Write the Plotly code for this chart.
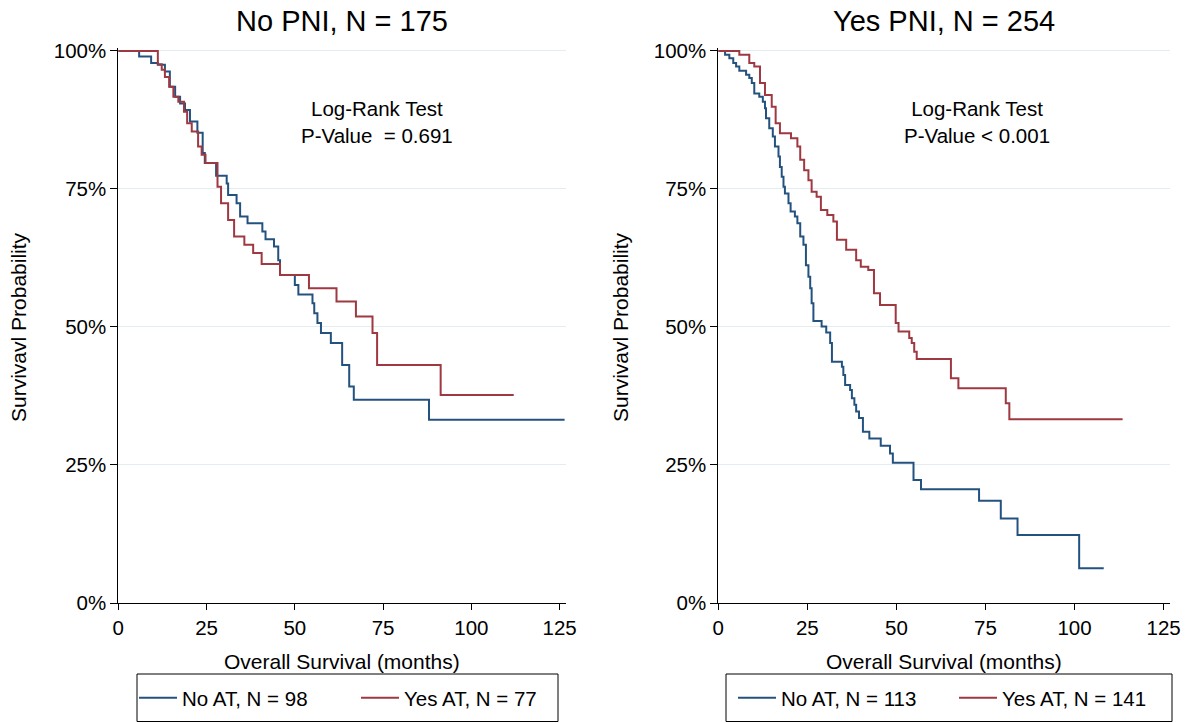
import plotly.graph_objects as go

W, H = 1188, 723

# ---------------- data ----------------
# Left panel: No PNI, N = 175
left_title = "No PNI, N = 175"
left_noat_name = "No AT, N = 98"
left_noat_t = [0, 5.9, 9.3, 11.2, 13.2, 14.6, 16.1, 17.5, 18.9, 20.3, 22.4, 23.9, 24.5, 27.7,
               30.7, 31.1, 33.5, 34.5, 36.6, 40.8, 41.7, 44.1, 45.3, 45.8, 50.0, 51.0, 55.0,
               55.5, 56.4, 57.4, 60.2, 63.4, 65.4, 66.7, 88.0, 126.4]
left_noat_s = [100, 99.0, 97.8, 97.5, 96.3, 93.5, 91.7, 90.5, 89.3, 87.2, 85.2, 81.5, 79.7, 77.4,
               76.0, 73.9, 72.4, 70.0, 68.8, 67.3, 65.9, 64.6, 62.1, 59.4, 57.6, 55.9, 54.3,
               52.5, 50.7, 48.9, 47.1, 43.1, 39.2, 36.8, 33.2, 33.2]
left_yesat_name = "Yes AT, N = 77"
left_yesat_t = [0, 11.2, 12.3, 13.2, 14.4, 15.6, 17.0, 18.6, 19.5, 20.8, 22.6, 23.6, 24.7, 28.1,
                29.1, 31.1, 32.8, 35.7, 38.2, 40.6, 45.8, 54.0, 61.8, 67.3, 72.0, 73.3, 91.3, 112.0]
left_yesat_s = [100, 97.6, 96.6, 95.3, 93.5, 91.7, 90.8, 89.0, 86.9, 85.4, 82.7, 81.2, 79.7, 75.4,
                72.4, 69.4, 66.4, 64.9, 63.4, 61.4, 59.4, 57.0, 54.6, 51.9, 48.9, 43.1, 37.7, 37.7]
left_pvalue = "P-Value \u00a0= 0.691"

# Right panel: Yes PNI, N = 254
right_title = "Yes PNI, N = 254"
right_noat_name = "No AT, N = 113"
right_noat_t = [0, 1.9, 3.1, 4.2, 5.0, 5.9, 7.8, 8.7, 9.4, 10.1, 11.5, 12.5, 13.1, 13.4, 14.3,
                15.3, 15.9, 16.9, 17.3, 17.8, 18.3, 18.7, 19.7, 20.3, 21.5, 22.2, 23.0, 23.9,
                24.6, 25.3, 25.8, 26.2, 26.7, 29.0, 30.3, 31.4, 31.9, 34.7, 35.1, 35.6, 37.0,
                37.5, 38.2, 38.7, 39.5, 40.6, 42.4, 45.6, 48.2, 49.0, 54.8, 56.9, 73.2, 79.3,
                84.0, 101.3, 108.2]
right_noat_s = [100, 99.3, 98.7, 97.8, 97.2, 96.4, 95.7, 95.1, 94.2, 92.3, 91.7, 90.8, 89.6, 87.8,
                86.0, 84.5, 82.7, 80.9, 79.0, 77.2, 75.4, 74.2, 72.4, 70.9, 70.0, 68.8, 66.4,
                64.9, 61.2, 59.1, 57.0, 54.3, 51.1, 50.1, 49.0, 47.1, 43.7, 42.8, 41.3, 39.5,
                38.6, 37.1, 35.9, 34.7, 33.5, 31.0, 29.8, 28.5, 27.1, 25.4, 22.3, 20.6, 18.5,
                15.3, 12.3, 6.3, 6.3]
right_yesat_name = "Yes AT, N = 141"
right_yesat_t = [0, 5.9, 8.7, 10.1, 11.7, 13.1, 15.0, 16.1, 17.3, 20.4, 22.2, 23.0, 24.1, 25.3,
                 26.2, 27.6, 28.8, 30.6, 32.3, 33.3, 35.9, 38.7, 40.0, 42.1, 43.7, 45.4, 49.8,
                 50.6, 53.6, 54.3, 55.0, 55.7, 65.3, 67.4, 80.7, 81.7, 113.5]
right_yesat_s = [100, 99.3, 97.8, 97.2, 94.2, 92.0, 89.9, 86.9, 85.1, 84.2, 82.7, 80.3, 78.4, 76.6,
                 74.5, 73.6, 71.2, 70.3, 69.1, 65.8, 64.0, 62.1, 60.9, 60.3, 56.1, 54.0, 50.7,
                 49.2, 48.0, 47.1, 45.5, 44.2, 40.7, 38.9, 36.2, 33.3, 33.3]
right_pvalue = "P-Value < 0.001"

x_ticks = [0, 25, 50, 75, 100, 125]
y_ticks = [0, 25, 50, 75, 100]
y_ticktext = ["0%", "25%", "50%", "75%", "100%"]
x_title = "Overall Survival (months)"
y_title = "Survivavl Probability"
test_label = "Log-Rank Test"

# ---------------- styling ----------------
BLUE = "#24527f"
RED = "#9e3841"
GRID = "#e3ecef"
FONT = "Liberation Sans, Arial, Helvetica, sans-serif"


def fx(p):
    """page pixel (from left) -> paper fraction"""
    return p / W


def fy(p):
    """page pixel (from top) -> paper fraction"""
    return 1 - p / H


fig = go.Figure()

fig.add_trace(go.Scatter(x=left_noat_t, y=left_noat_s, mode="lines", name=left_noat_name,
                         line=dict(shape="hv", color=BLUE, width=2),
                         xaxis="x", yaxis="y", legend="legend"))
fig.add_trace(go.Scatter(x=left_yesat_t, y=left_yesat_s, mode="lines", name=left_yesat_name,
                         line=dict(shape="hv", color=RED, width=2),
                         xaxis="x", yaxis="y", legend="legend"))
fig.add_trace(go.Scatter(x=right_noat_t, y=right_noat_s, mode="lines", name=right_noat_name,
                         line=dict(shape="hv", color=BLUE, width=2),
                         xaxis="x2", yaxis="y2", legend="legend2"))
fig.add_trace(go.Scatter(x=right_yesat_t, y=right_yesat_s, mode="lines", name=right_yesat_name,
                         line=dict(shape="hv", color=RED, width=2),
                         xaxis="x2", yaxis="y2", legend="legend2"))

TICKFONT = dict(size=20.5, color="black")
xax = dict(range=[0, 126.8], tickvals=x_ticks, showline=True, linecolor="black", linewidth=1,
           ticks="outside", ticklen=6, tickcolor="black", showgrid=False, zeroline=False,
           tickfont=TICKFONT, fixedrange=True, automargin=False)
yax = dict(range=[0, 100.5], tickvals=y_ticks, ticktext=y_ticktext, showline=True,
           linecolor="black", linewidth=1, ticks="outside", ticklen=7, tickcolor="black",
           showgrid=True, gridcolor=GRID, gridwidth=1, zeroline=False,
           tickfont=TICKFONT, fixedrange=True, automargin=False)

ydom = [fy(603), fy(48.2)]

LEGFONT = dict(size=20.5, color="black")
fig.update_layout(
    width=W, height=H,
    margin=dict(l=0, r=0, t=0, b=0, pad=0, autoexpand=False),
    paper_bgcolor="white", plot_bgcolor="white",
    font=dict(family=FONT, size=20.5, color="black"),
    xaxis=dict(xax, domain=[fx(118.3), fx(566)], anchor="y"),
    yaxis=dict(yax, domain=ydom, anchor="x"),
    xaxis2=dict(xax, domain=[fx(718.3), fx(1170)], anchor="y2"),
    yaxis2=dict(yax, domain=ydom, anchor="x2"),
    legend=dict(orientation="h", x=fx(134), xanchor="left", y=fy(698), yanchor="middle",
                borderwidth=0, bgcolor="rgba(0,0,0,0)", font=LEGFONT,
                itemwidth=38, entrywidth=169),
    legend2=dict(orientation="h", x=fx(733), xanchor="left", y=fy(698), yanchor="middle",
                 borderwidth=0, bgcolor="rgba(0,0,0,0)", font=LEGFONT,
                 itemwidth=38, entrywidth=168),
    showlegend=True,
)

# legend frames
for x0, x1 in ((137, 558), (726, 1172)):
    fig.add_shape(type="rect", xref="paper", yref="paper", x0=fx(x0), x1=fx(x1),
                  y0=fy(721.5), y1=fy(674), line=dict(color="black", width=1),
                  fillcolor="rgba(0,0,0,0)", layer="above")

ann = []
# panel titles
ann.append(dict(text=left_title, x=fx(342), y=fy(21), xref="paper", yref="paper",
                xanchor="center", yanchor="middle", showarrow=False, font=dict(size=29)))
ann.append(dict(text=right_title, x=fx(944), y=fy(21), xref="paper", yref="paper",
                xanchor="center", yanchor="middle", showarrow=False, font=dict(size=29)))
# axis titles
for cx in (342, 944):
    ann.append(dict(text=x_title, x=fx(cx), y=fy(661), xref="paper", yref="paper",
                    xanchor="center", yanchor="middle", showarrow=False, font=dict(size=21)))
for cx in (19, 621):
    ann.append(dict(text=y_title, x=fx(cx), y=fy(327), xref="paper", yref="paper",
                    xanchor="center", yanchor="middle", showarrow=False, textangle=-90,
                    font=dict(size=21)))
# log-rank test text
for xr, yr, xc, pv in (("x", "y", 73.3, left_pvalue), ("x2", "y2", 72.5, right_pvalue)):
    ann.append(dict(text=test_label + "<br>" + pv, x=xc, y=87.2, xref=xr, yref=yr,
                    xanchor="center", yanchor="middle", align="center", showarrow=False,
                    font=dict(size=20.5)))
fig.update_layout(annotations=ann)

fig.write_html("out.html")
